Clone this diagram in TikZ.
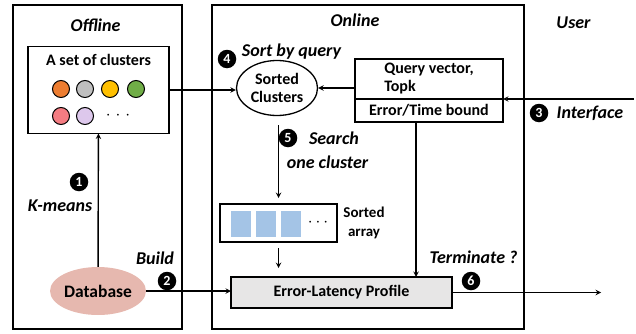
\documentclass[tikz,border=0pt]{standalone}
\usepackage{fontspec}
\setmainfont{Carlito}
\usepackage{xcolor}
\usetikzlibrary{shapes.geometric, arrows, positioning}

\definecolor{dbpink}{RGB}{230,184,175}
\definecolor{profgray}{RGB}{231,230,230}
\definecolor{cellblue}{RGB}{164,196,230}
\definecolor{corange}{RGB}{237,125,49}
\definecolor{cgray}{RGB}{191,191,191}
\definecolor{cyellow}{RGB}{255,192,0}
\definecolor{cgreen}{RGB}{112,173,71}
\definecolor{cpink}{RGB}{244,124,130}
\definecolor{clilac}{RGB}{221,200,236}

\newcommand{\moredots}[1]{$\cdot$\hspace{#1}$\cdot$\hspace{#1}$\cdot$}

\tikzstyle{stage} = [rectangle, draw=black, line width=1.6pt, outer sep=0pt]
\tikzstyle{box} = [rectangle, draw=black, line width=1.6pt, outer sep=0pt, inner sep=2pt, text centered, font=\bfseries\fontsize{16}{18}\selectfont]
\tikzstyle{oval} = [ellipse, draw=black, line width=1.3pt, inner sep=0pt, align=center, font=\bfseries\fontsize{16}{18}\selectfont]
\tikzstyle{dot} = [circle, draw=black, line width=1pt, minimum size=17pt, inner sep=0pt]
\tikzstyle{cell} = [rectangle, fill=cellblue, minimum width=20pt, minimum height=26pt, inner sep=0pt]
\tikzstyle{num} = [circle, fill=black, text=white, inner sep=0pt, minimum size=18.5pt, font=\bfseries\fontsize{14}{14}\selectfont]
\tikzstyle{tag} = [font=\bfseries\itshape\fontsize{18}{20}\selectfont]
\tikzstyle{plain} = [font=\bfseries\fontsize{16}{18}\selectfont, align=center]
\tikzstyle{arrow} = [line width=1.4pt,->,>=stealth]

\begin{document}
\begin{tikzpicture}[x=1pt, y=1pt]
    \useasboundingbox (0,0) rectangle (636,333);

    % offline / online stages
    \node (offline) [stage, minimum width=169pt, minimum height=324pt] at (97.5,166) {};
    \node (online) [stage, minimum width=312pt, minimum height=324pt] at (368,166) {};
    \node (offtitle) [tag] at (95.5,308) {Offline};
    \node (ontitle) [tag] at (355,313) {Online};
    \node (usertitle) [tag] at (573.5,310) {User};

    % clusters
    \node (clusters) [box, minimum width=141pt, minimum height=87pt] at (98.5,243) {};
    \node (clustitle) [plain] at (98.5,273) {A set of clusters};
    \foreach \x/\c [count=\i] in {61/corange,85/cgray,110/cyellow,136/cgreen}
        \node (dot\i) [dot, fill=\c] at (\x,244) {};
    \foreach \x/\c [count=\i from 5] in {61/cpink,85/clilac}
        \node (dot\i) [dot, fill=\c] at (\x,217) {};
    \node (moreclus) [plain] at (118,217) {\moredots{5pt}};

    \node (db) [ellipse, fill=dbpink, minimum width=87pt, minimum height=48pt, inner sep=0pt, font=\bfseries\fontsize{17.5}{20}\selectfont] at (98,42) {Database};

    % online part
    \node (sorted) [oval, minimum width=81pt, minimum height=55pt] at (277,245) {Sorted\\Clusters};
    \node (query) [box, minimum width=148pt, minimum height=40pt, align=left] at (429,254) {Query vector,\\Topk};
    \node (bound) [box, minimum width=148pt, minimum height=23pt, below=0pt of query] {Error/Time bound};

    \node (array) [box, minimum width=117pt, minimum height=38pt] at (278.5,110) {};
    \foreach \x [count=\i] in {241,266,291}
        \node (cell\i) [cell] at (\x,109) {};
    \node (morecells) [plain] at (318,110) {\moredots{3pt}};
    \node (arraylbl) [plain, font=\bfseries\fontsize{15}{19}\selectfont] at (364,110) {Sorted\\array};

    \node (profile) [box, fill=profgray, minimum width=221pt, minimum height=31pt] at (341.5,40.5) {Error-Latency Profile};

    % step labels
    \node (n1) [num] at (79,151) {1};
    \node (kmeans) [tag] at (60,127) {K-means};
    \node (n2) [num] at (167,52) {2};
    \node (build) [tag] at (155,75) {Build};
    \node (n3) [num] at (539,220) {3};
    \node (iface) [tag] at (590,220) {Interface};
    \node (n4) [num] at (227,274) {4};
    \node (sortq) [tag] at (291.5,281) {Sort by query};
    \node (n5) [num] at (288,195) {5};
    \node (search) [tag] at (334,195) {Search};
    \node (onecl) [tag] at (327.5,171) {one cluster};
    \node (n6) [num] at (471,52) {6};
    \node (term) [tag] at (473.5,76) {Terminate ?};

    \coordinate (user) at (634,234);
    \coordinate (out) at (601,40.5);

    \draw [arrow] (db) -- (clusters);
    \draw [arrow] (clusters.east) -- (clusters.east -| sorted.west);
    \draw [arrow] (sorted.east -| query.west) -- (sorted.east);
    \draw [arrow] (user) -- (query.south east);
    \draw [arrow, shorten <=9pt, shorten >=6pt] (array.north |- sorted.south) -- (array.north);
    \draw [arrow, shorten <=6pt, shorten >=9pt] (array.south) -- (array.south |- profile.north);
    \draw [arrow] ([xshift=-13pt]bound.south) -- ([xshift=-13pt]bound.south |- profile.north);
    \draw [arrow] (db.east) -- (db.east -| profile.west);
    \draw [arrow] (profile.east) -- (out);
\end{tikzpicture}
\end{document}
